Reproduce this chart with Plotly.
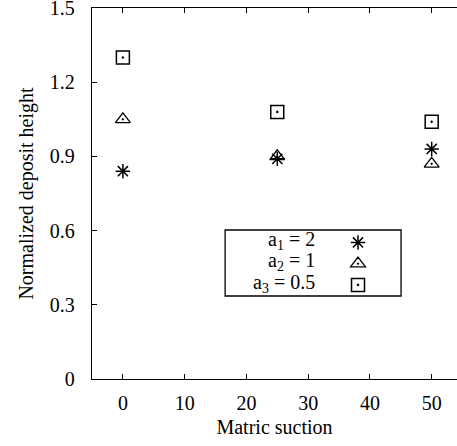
import plotly.graph_objects as go

suction = [0, 25, 50]
h_a1 = [0.84, 0.89, 0.93]
h_a2 = [1.05, 0.90, 0.87]
h_a3 = [1.30, 1.08, 1.04]
labels = ["a<sub>1</sub> = 2", "a<sub>2</sub> = 1", "a<sub>3</sub> = 0.5"]
x_ticks = [0, 10, 20, 30, 40, 50]
y_ticks = [0, 0.3, 0.6, 0.9, 1.2, 1.5]
y_ticktext = ["0", "0.3", "0.6", "0.9", "1.2", "1.5"]

FONT = "Liberation Serif, Times New Roman, Times, serif"
fig = go.Figure()
styles = [
    dict(symbol="asterisk-open", size=12, color="black", line=dict(color="black", width=1.5)),
    dict(symbol="triangle-up-open-dot", size=13, color="black", line=dict(color="black", width=1.3)),
    dict(symbol="square-open-dot", size=13, color="black", line=dict(color="black", width=1.5)),
]
for ys, st in zip([h_a1, h_a2, h_a3], styles):
    fig.add_trace(go.Scatter(x=suction, y=ys, mode="markers", marker=st, name="", showlegend=True))

# legend box
fig.add_shape(type="rect", xref="paper", yref="paper", x0=0.3647, x1=0.8467, y0=0.2237, y1=0.4016,
              line=dict(color="black", width=1.3), fillcolor="rgba(0,0,0,0)")
label_y = [0.372, 0.316, 0.258]
for lab, ly in zip(labels, label_y):
    fig.add_annotation(text=lab, xref="paper", yref="paper", x=0.6166, y=ly, xanchor="right", yanchor="middle",
                       showarrow=False, font=dict(family=FONT, size=20, color="black"))

fig.update_layout(
    width=457, height=446,
    margin=dict(l=92, r=0, t=8, b=67),
    paper_bgcolor="white", plot_bgcolor="white",
    font=dict(family=FONT, size=20, color="black"),
    legend=dict(x=0.674, xanchor="left", y=0.410, yanchor="top", bgcolor="rgba(0,0,0,0)",
                borderwidth=0, font=dict(family=FONT, size=14), itemwidth=30, tracegroupgap=0),
    showlegend=True,
)
fig.update_xaxes(range=[-5, 54.1], tickvals=x_ticks, ticks="inside", ticklen=5, tickcolor="black",
                 showline=True, linecolor="black", linewidth=1.3, mirror="ticks", showgrid=False, zeroline=False,
                 automargin=False,
                 title=dict(text="Matric suction", standoff=6, font=dict(family=FONT, size=20)),
                 tickfont=dict(family=FONT, size=20), ticklabelstandoff=6, ticklabeloverflow="allow")
fig.update_yaxes(range=[0, 1.5], tickvals=y_ticks, ticktext=y_ticktext, ticks="inside", ticklen=5, tickcolor="black",
                 showline=True, linecolor="black", linewidth=1.3, mirror=False, showgrid=False, zeroline=False,
                 automargin=False,
                 title=dict(text="Normalized deposit height", standoff=10, font=dict(family=FONT, size=20)),
                 tickfont=dict(family=FONT, size=20), ticklabelstandoff=12, ticklabeloverflow="allow")
fig.write_html("out.html")
